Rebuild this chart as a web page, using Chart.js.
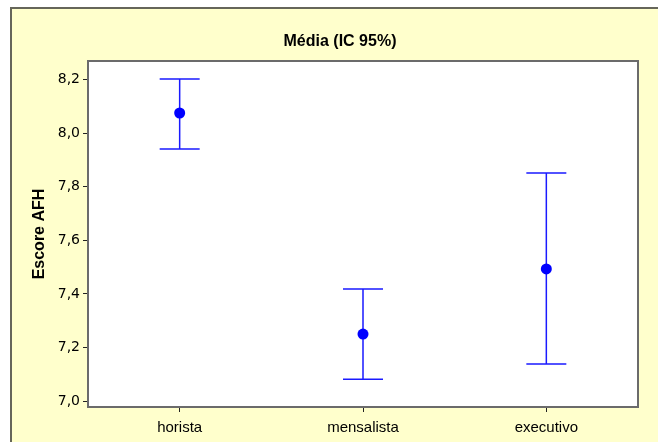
<!DOCTYPE html>
<html>
<head>
<meta charset="utf-8">
<script src="https://cdn.jsdelivr.net/npm/chart.js@4"></script>
<style>
  html, body { margin: 0; padding: 0; background: #ffffff; }
  #wrap { width: 658px; height: 442px; }
</style>
</head>
<body>
<div id="wrap"><canvas id="ciChart" width="658" height="442"></canvas></div>
<script>
var categories = ['horista', 'mensalista', 'executivo'];
var means = [8.075, 7.250, 7.493];
var upper = [8.202, 7.418, 7.851];
var lower = [7.941, 7.082, 7.138];
var yTicks = [7.0, 7.2, 7.4, 7.6, 7.8, 8.0, 8.2];

// yellow panel + plot frame + error bars
var framePlugin = {
    id: 'framePlugin',
    beforeDraw: function(chart) {
        var c = chart.ctx;
        c.save();
        c.fillStyle = '#ffffcc';
        c.fillRect(11, 8, 700, 500);
        c.strokeStyle = '#66665a';
        c.lineWidth = 2;
        c.strokeRect(11, 8, 700, 500);
        var a = chart.chartArea;
        c.fillStyle = '#ffffff';
        c.fillRect(a.left, a.top, a.right - a.left, a.bottom - a.top);
        c.restore();
    },
    beforeDatasetsDraw: function(chart) {
        var c = chart.ctx;
        var xs = chart.scales.x, ys = chart.scales.y;
        c.save();
        c.strokeStyle = '#1a1aff';
        c.lineWidth = 1.5;
        for (var i = 0; i < categories.length; i++) {
            var x = xs.getPixelForValue(i);
            var yt = ys.getPixelForValue(upper[i]);
            var yb = ys.getPixelForValue(lower[i]);
            c.beginPath();
            c.moveTo(x, yt); c.lineTo(x, yb);
            c.moveTo(x - 20, yt); c.lineTo(x + 20, yt);
            c.moveTo(x - 20, yb); c.lineTo(x + 20, yb);
            c.stroke();
        }
        c.restore();
    },
    afterDraw: function(chart) {
        var c = chart.ctx, a = chart.chartArea;
        c.save();
        c.strokeStyle = '#6b6b6b';
        c.lineWidth = 2;
        c.strokeRect(a.left, a.top, a.right - a.left, a.bottom - a.top);
        c.restore();
    }
};

new Chart(document.getElementById('ciChart'), {
    type: 'line',
    data: {
        labels: categories,
        datasets: [{
            label: 'Média',
            data: means,
            showLine: false,
            pointRadius: 5.5,
            pointHoverRadius: 5.5,
            pointBackgroundColor: '#0000ff',
            pointBorderColor: '#0000ff',
            pointBorderWidth: 0
        }]
    },
    options: {
        responsive: false,
        animation: false,
        layout: { padding: { left: 42, right: 20, top: 0, bottom: 0 } },
        plugins: {
            legend: { display: false },
            tooltip: { enabled: false },
            title: {
                display: true,
                text: 'Média (IC 95%)',
                color: '#000000',
                font: { family: 'Liberation Sans', size: 16, weight: 'bold' },
                padding: { top: 31.5, bottom: 10.3 }
            }
        },
        scales: {
            x: {
                type: 'category',
                offset: true,
                grid: { display: true, drawOnChartArea: false, drawTicks: true, tickLength: 5, color: '#222222', offset: false },
                border: { display: false },
                ticks: { color: '#000000', padding: 7, font: { family: 'Liberation Sans', size: 15 } },
                afterFit: function(s) { s.height = 35; }
            },
            y: {
                min: 6.978,
                max: 8.269,
                grid: { display: true, drawOnChartArea: false, drawTicks: true, tickLength: 5, color: '#222222' },
                border: { display: false },
                afterBuildTicks: function(s) {
                    s.ticks = yTicks.map(function(v) { return { value: v }; });
                },
                ticks: {
                    color: '#000000',
                    padding: 3,
                    font: { family: 'DejaVu Sans', size: 14 },
                    callback: function(v) { return Number(v).toFixed(1).replace('.', ','); }
                },
                title: {
                    display: true,
                    text: 'Escore AFH',
                    color: '#000000',
                    font: { family: 'Liberation Sans', size: 16, weight: 'bold' },
                    padding: { top: -11.6, bottom: 0 }
                },
                afterFit: function(s) { s.width = 46; }
            }
        }
    },
    plugins: [framePlugin]
});
</script>
</body>
</html>
